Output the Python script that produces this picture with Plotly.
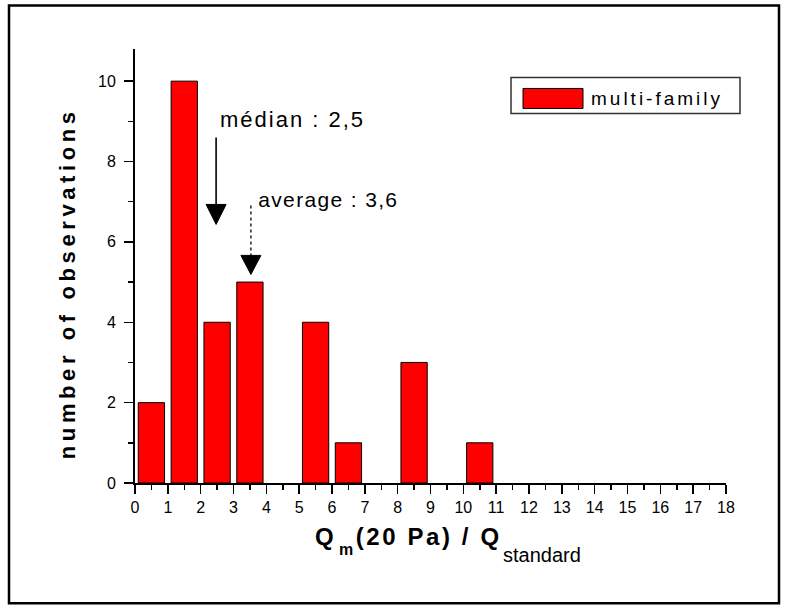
import json
import plotly.graph_objects as go

# ---------------- data ----------------
bin_centers = [0.5, 1.5, 2.5, 3.5, 4.5, 5.5, 6.5, 7.5, 8.5, 9.5,
               10.5, 11.5, 12.5, 13.5, 14.5, 15.5, 16.5, 17.5]
counts = [2, 10, 4, 5, 0, 4, 1, 0, 3, 0, 1, 0, 0, 0, 0, 0, 0, 0]
x_tick_vals = list(range(0, 19))
y_tick_vals = [0, 2, 4, 6, 8, 10]
series_name = "multi-family"
median_label = "médian : 2,5"
average_label = "average : 3,6"
median_arrow_x = 2.47
average_arrow_x = 3.53
y_title = "number of observations"

# ---------------- geometry helpers ----------------
W, H = 787, 608
L, R, T, B = 135, 61, 48.5, 125.3
PW, PH = W - L - R, H - T - B
XMAX, YMAX = 18, 10.8


def px(x):  # pixel -> paper x
    return (x - L) / PW


def py(y):  # pixel -> paper y
    return (H - B - y) / PH


def ydat(y):  # pixel -> data y
    return (H - B - y) * YMAX / PH


def dxp(n):  # pixel length -> data x length
    return n * XMAX / PW


FONT = "Arial, Liberation Sans, sans-serif"

fig = go.Figure()
fig.add_trace(go.Bar(
    x=bin_centers, y=counts, width=0.8, name=series_name,
    marker=dict(color="#ff0000",
                line=dict(color="black", width=[1 if c else 0 for c in counts])),
    showlegend=False,
))

shapes = []
# outer frame
shapes.append(dict(type="rect", xref="paper", yref="paper",
                   x0=px(9), x1=px(779), y0=py(603), y1=py(5),
                   line=dict(color="black", width=2.5), layer="above"))
# legend box
shapes.append(dict(type="rect", xref="paper", yref="paper",
                   x0=px(511), x1=px(740), y0=py(113), y1=py(77),
                   line=dict(color="#333333", width=1.5), fillcolor="white"))
shapes.append(dict(type="rect", xref="paper", yref="paper",
                   x0=px(523), x1=px(583), y0=py(108), y1=py(88),
                   line=dict(color="black", width=1), fillcolor="#ff0000"))

# median arrow (solid)
hw = dxp(10)
shapes.append(dict(type="line", xref="x", yref="y",
                   x0=median_arrow_x, x1=median_arrow_x,
                   y0=ydat(137), y1=ydat(205),
                   line=dict(color="black", width=1.6)))
shapes.append(dict(type="path", xref="x", yref="y",
                   path=f"M {median_arrow_x-hw},{ydat(204)} L {median_arrow_x+hw},{ydat(204)} "
                        f"L {median_arrow_x},{ydat(224)} Z",
                   fillcolor="black", line=dict(color="black", width=1)))
# average arrow (dotted)
shapes.append(dict(type="line", xref="x", yref="y",
                   x0=average_arrow_x, x1=average_arrow_x,
                   y0=ydat(205), y1=ydat(256),
                   line=dict(color="black", width=1.3, dash="dot")))
shapes.append(dict(type="path", xref="x", yref="y",
                   path=f"M {average_arrow_x-hw},{ydat(255)} L {average_arrow_x+hw},{ydat(255)} "
                        f"L {average_arrow_x},{ydat(274)} Z",
                   fillcolor="black", line=dict(color="black", width=1)))

spacing = {}


def ann(text, cx, cy, size, bold=False, angle=0, ls=0.0):
    if ls:
        spacing[text] = ls
    return dict(text=text, xref="paper", yref="paper",
                x=px(cx + ls / 2.0), y=py(cy), xanchor="center", yanchor="middle",
                showarrow=False, textangle=angle,
                font=dict(family=FONT, size=size, color="black",
                          weight="bold" if bold else "normal"))


annotations = [
    ann(median_label, 291, 126.7 - 0.3465 * 22, 22, ls=2.0),
    ann(average_label, 327.5, 206.7 - 0.3465 * 21, 21, ls=1.35),
    ann(series_name, 656, 104.3 - 0.3465 * 19, 19, ls=3.0),
    ann("Q", 324, 545 - 0.3465 * 24, 24, bold=True),
    ann("m", 346, 555 - 0.3465 * 16, 16, bold=True),
    ann("(20 Pa) / Q", 427.5, 545 - 0.3465 * 24, 24, bold=True, ls=2.6),
    ann("standard", 542, 562 - 0.3465 * 20, 20),
]
yt = ann(y_title, 0, 0, 22, bold=True, angle=-90)
yt.update(x=px(68), y=py(285.5 - 2.3))
spacing[y_title] = 4.6
annotations.append(yt)

axis_common = dict(
    showline=True, linewidth=2, linecolor="black",
    ticks="outside", ticklen=9, tickwidth=1.5, tickcolor="black",
    showgrid=False, zeroline=False,
    tickfont=dict(family=FONT, size=16, color="black"),
)

fig.update_layout(
    width=W, height=H,
    margin=dict(l=L, r=R, t=T, b=B, pad=0),
    paper_bgcolor="white", plot_bgcolor="white",
    showlegend=False,
    shapes=shapes, annotations=annotations,
    xaxis=dict(range=[0, XMAX], tickmode="array", tickvals=x_tick_vals,
               minor=dict(dtick=0.5, tick0=0, ticks="outside", ticklen=5,
                          tickwidth=1.5, tickcolor="black", showgrid=False),
               ticklabelstandoff=0, **axis_common),
    yaxis=dict(range=[0, YMAX], tickmode="array", tickvals=y_tick_vals,
               minor=dict(dtick=1, tick0=0, ticks="outside", ticklen=5,
                          tickwidth=1.5, tickcolor="black", showgrid=False),
               ticklabelstandoff=5, **axis_common),
)

post = """
document.body.style.margin = '0';
document.body.style.padding = '0';
document.body.style.overflow = 'hidden';
var gd = document.getElementById('{plot_id}');
var ls = %s;
function applyLS(){
  gd.querySelectorAll('text.annotation-text').forEach(function(t){
    var k = t.textContent;
    if (ls.hasOwnProperty(k)) { t.style.letterSpacing = ls[k] + 'px'; }
  });
}
applyLS();
gd.on('plotly_afterplot', applyLS);
""" % json.dumps(spacing)

fig.write_html("out.html", post_script=post,
               config={"displayModeBar": False, "staticPlot": True})
